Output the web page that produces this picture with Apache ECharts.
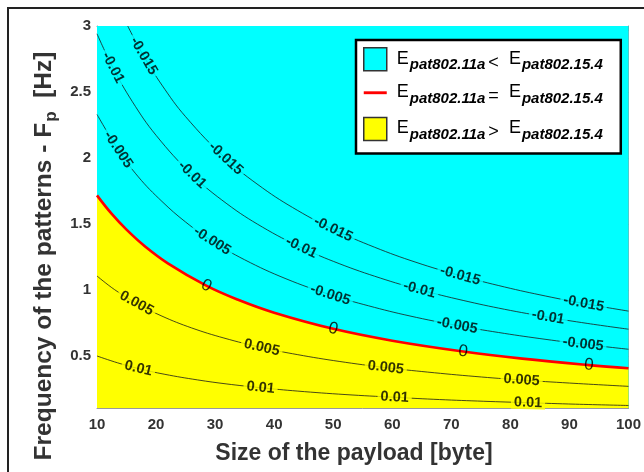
<!DOCTYPE html>
<html><head><meta charset="utf-8">
<script src="https://cdn.jsdelivr.net/npm/echarts@6/dist/echarts.min.js"></script>
<style>html,body{margin:0;padding:0;background:#fff}#c{width:644px;height:472px}</style>
</head><body><div id="c"></div>
<script>
// ---------- data ----------
const xTicks = [10,20,30,40,50,60,70,80,90,100];
const yTicks = [0.5,1,1.5,2,2.5,3];
const xRange = [10,100];
const yRange = [0.106,3];
const plotTop = [[10,3],[100,3]];

const levelM015 = [[15.2,3.0],[17.9,2.773],[21,2.552],[25,2.313],[31.8,1.996],[38,1.774],[44,1.602],[50,1.460],[57,1.324],[64,1.210],[71.5,1.109],[79,1.023],[86,0.954],[92.4,0.898],[100,0.840]];
const labelAtM015 = [1,4,7,10,13];

const levelM010 = [[10,2.941],[12.7,2.684],[16,2.426],[20,2.172],[26.1,1.873],[32,1.653],[38,1.477],[44.6,1.322],[51,1.200],[58,1.090],[64.6,1.003],[72,0.921],[79,0.854],[86.4,0.794],[93,0.747],[100,0.703]];
const labelAtM010 = [1,4,7,10,13];

const levelM005 = [[10,2.330],[13.6,2.063],[17,1.857],[21,1.671],[25,1.515],[29.5,1.371],[35,1.229],[42,1.085],[49.5,0.964],[56,0.880],[63,0.803],[71,0.731],[78,0.678],[85,0.632],[92.3,0.590],[100,0.551]];
const labelAtM005 = [1,5,8,11,14];

const level0 = [[10,1.717],[12.5,1.576],[15,1.457],[18,1.335],[22,1.202],[28.5,1.033],[34,0.924],[40,0.828],[50,0.706],[60,0.616],[72,0.534],[82,0.480],[93.3,0.431],[100,0.407]];
const labelAt0 = [5,8,10,12];

const levelP005 = [[10,1.106],[13,1.002],[16.7,0.899],[21,0.802],[26,0.713],[31.5,0.636],[37.9,0.564],[44,0.510],[51,0.459],[58.9,0.412],[66,0.378],[74,0.345],[81.9,0.318],[90,0.295],[100,0.270]];
const labelAtP005 = [2,6,9,12];

const levelP010 = [[10,0.500],[13.5,0.448],[17,0.405],[21.5,0.361],[27,0.319],[32,0.288],[37.7,0.260],[44,0.234],[52,0.208],[60.4,0.187],[68,0.170],[75.5,0.157],[83,0.146],[91,0.135],[100,0.125]];
const labelAtP010 = [2,6,9,12];

const levelTexts = ['-0.015','-0.01','-0.005','0','0.005','0.01'];
// ---------------------------------------------------

const FF = '"Liberation Sans", Arial, sans-serif';
const CYAN = '#00ffff', YELLOW = '#ffff00', RED = '#ff0000';
const contours = [
  {text: levelTexts[0], pts: levelM015, at: labelAtM015, bg: CYAN},
  {text: levelTexts[1], pts: levelM010, at: labelAtM010, bg: CYAN},
  {text: levelTexts[2], pts: levelM005, at: labelAtM005, bg: CYAN},
  {text: levelTexts[3], pts: level0, at: labelAt0, bg: null},
  {text: levelTexts[4], pts: levelP005, at: labelAtP005, bg: YELLOW},
  {text: levelTexts[5], pts: levelP010, at: labelAtP010, bg: YELLOW}
];
const SMOOTH = 0.4;

const legendNames = {
  lt: '{e|E}{s|pat802.11a}{o|<}{e2|E}{s|pat802.15.4}',
  eq: '{e|E}{s|pat802.11a}{o|=}{e2|E}{s|pat802.15.4}',
  gt: '{e|E}{s|pat802.11a}{o|>}{e2|E}{s|pat802.15.4}'
};

function buildLabels(chart) {
  const data = [];
  contours.forEach(c => {
    c.at.forEach(i => {
      let rot = 0;
      if (chart) {
        const p0 = chart.convertToPixel({gridIndex: 0}, c.pts[i - 1]);
        const p1 = chart.convertToPixel({gridIndex: 0}, c.pts[i + 1]);
        rot = -Math.atan2(p1[1] - p0[1], p1[0] - p0[0]) * 180 / Math.PI;
      }
      const isZero = c.bg === null;
      data.push({
        value: c.pts[i],
        label: {
          show: true, position: 'inside', formatter: c.text, rotate: rot,
          fontFamily: FF, fontSize: isZero ? 17 : 14.5, fontWeight: isZero ? 'normal' : 'bold',
          lineHeight: isZero ? 17 : 13,
          color: '#000',
          backgroundColor: isZero ? 'transparent' : c.bg,
          padding: isZero ? 0 : [0, 3]
        }
      });
    });
  });
  return data;
}

const axisCommonX = {
  type: 'value', min: xRange[0], max: xRange[1], interval: 10,
  axisLine: {show: true, onZero: false, lineStyle: {color: '#9a9a9a', width: 1}},
  axisTick: {show: true, inside: true, length: 5, lineStyle: {color: '#888'}},
  splitLine: {show: false}
};
const axisCommonY = {
  type: 'value', min: yRange[0], max: yRange[1],
  axisLine: {show: true, onZero: false, lineStyle: {color: '#9a9a9a', width: 1}},
  axisTick: {show: true, inside: true, length: 5, lineStyle: {color: '#888'}, customValues: yTicks},
  splitLine: {show: false}
};

const series = [
  {name: 'lt', type: 'line', data: plotTop, symbol: 'none', lineStyle: {width: 0},
   areaStyle: {color: CYAN, opacity: 1, origin: 'start'}, z: 1, silent: true},
  {name: 'gt', type: 'line', data: level0, symbol: 'none', smooth: SMOOTH,
   lineStyle: {width: 0}, itemStyle: {color: YELLOW},
   areaStyle: {color: YELLOW, opacity: 1, origin: 'start'}, z: 2, silent: true}
];
contours.forEach(c => {
  if (c.bg === null) return;
  series.push({name: 'c' + c.text, type: 'line', data: c.pts, symbol: 'none', smooth: SMOOTH,
    lineStyle: {color: '#1a1a1a', width: 0.8}, z: 3, silent: true});
});
series.push({name: 'eq', type: 'line', data: level0, symbol: 'none', smooth: SMOOTH,
  lineStyle: {color: RED, width: 2.6}, itemStyle: {color: RED}, z: 4, silent: true});
series.push({name: 'labels', type: 'scatter', data: buildLabels(null), symbol: 'circle', symbolSize: 1,
  itemStyle: {color: 'rgba(0,0,0,0)'}, z: 5, silent: true});

const chart = echarts.init(document.getElementById('c'), null, {renderer: 'canvas'});
chart.setOption({
  animation: false,
  backgroundColor: '#fff',
  grid: {left: 97, right: 10, top: 26, bottom: 64, containLabel: false},
  xAxis: [
    Object.assign({}, axisCommonX, {position: 'bottom',
      axisLabel: {show: true, fontFamily: FF, fontSize: 15, fontWeight: 'bold', color: '#333', margin: 9}}),
    Object.assign({}, axisCommonX, {position: 'top', axisLabel: {show: false}})
  ],
  yAxis: [
    Object.assign({}, axisCommonY, {position: 'left',
      axisLabel: {show: true, fontFamily: FF, fontSize: 15, fontWeight: 'bold', color: '#333', margin: 6, customValues: yTicks}}),
    Object.assign({}, axisCommonY, {position: 'right', axisLabel: {show: false}})
  ],
  legend: {
    orient: 'vertical', left: 356, top: 40,
    padding: [7, 18, 11, 7], itemGap: 10.5, itemWidth: 23, itemHeight: 23,
    backgroundColor: '#fff', borderColor: '#000', borderWidth: 2.5, borderRadius: 0,
    selectedMode: false,
    data: [
      {name: 'lt', icon: 'rect', itemStyle: {color: CYAN, borderColor: '#333', borderWidth: 1.5}},
      {name: 'eq', icon: 'path://M0,10L24,10L24,13L0,13Z', itemStyle: {color: RED, borderWidth: 0}},
      {name: 'gt', icon: 'rect', itemStyle: {color: YELLOW, borderColor: '#333', borderWidth: 1.5}}
    ],
    formatter: n => legendNames[n],
    textStyle: {
      rich: {
        e: {fontFamily: FF, fontSize: 18, color: '#000', verticalAlign: 'top', padding: [4, 0, 0, 5]},
        e2: {fontFamily: FF, fontSize: 18, color: '#000', verticalAlign: 'top', padding: [4, 0, 0, 10]},
        s: {fontFamily: FF, fontSize: 15, fontWeight: 'bold', fontStyle: 'italic', color: '#000', verticalAlign: 'top', padding: [12, 0, 0, 1]},
        o: {fontFamily: FF, fontSize: 18, color: '#000', verticalAlign: 'top', padding: [8, 0, 0, 3]}
      }
    }
  },
  graphic: [
    {type: 'rect', shape: {x: 8, y: 8, width: 700, height: 500}, style: {fill: 'none', stroke: '#222', lineWidth: 2}, z: 0, silent: true},
    {type: 'text', x: 354, y: 454, silent: true,
     style: {text: 'Size of the payload [byte]', font: 'bold 23px ' + FF, fill: '#333', align: 'center', verticalAlign: 'middle'}},
    {type: 'text', x: 46, y: 256, rotation: Math.PI / 2, silent: true,
     style: {text: '{a|Frequency of the patterns - F}{s|p}{a|  [Hz]}', align: 'center', verticalAlign: 'middle',
       rich: {
         a: {fontFamily: FF, fontSize: 24.5, fontWeight: 'bold', fill: '#333', verticalAlign: 'top', padding: [0, 0, 0, 0]},
         s: {fontFamily: FF, fontSize: 17, fontWeight: 'bold', fill: '#333', verticalAlign: 'top', padding: [11, 0, 0, 1]}
       }}}
  ],
  series: series
});
chart.setOption({series: [{name: 'labels', data: buildLabels(chart)}]});
</script></body></html>
